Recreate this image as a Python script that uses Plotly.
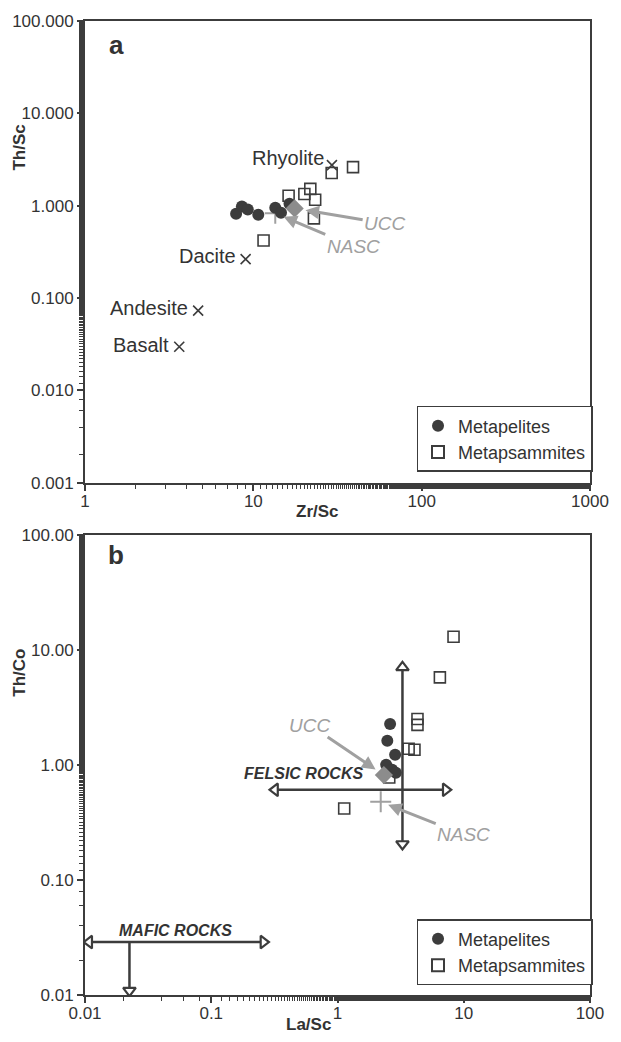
import math
import plotly.graph_objects as go

# ---------------- Panel a data (Zr/Sc vs Th/Sc) ----------------
pel_a_x = [7.9, 8.55, 9.27, 10.7, 13.5, 14.6, 16.4]
pel_a_y = [0.82, 0.98, 0.91, 0.80, 0.95, 0.84, 1.05]
psa_a_x = [39.1, 29.2, 16.2, 20.1, 21.8, 23.3, 22.9, 11.5]
psa_a_y = [2.62, 2.26, 1.28, 1.34, 1.52, 1.16, 0.73, 0.42]
rock_names = ["Rhyolite", "Dacite", "Andesite", "Basalt"]
rock_x = [29.3, 9.0, 4.7, 3.63]
rock_y = [2.75, 0.264, 0.073, 0.0297]
ucc_a = (17.6, 0.935)
nasc_a = (13.5, 0.83)

# ---------------- Panel b data (La/Sc vs Th/Co) ----------------
pel_b_x = [2.61, 2.48, 2.86, 2.43, 2.71, 2.90]
pel_b_y = [2.28, 1.63, 1.23, 1.01, 0.91, 0.86]
psa_b_x = [8.3, 6.47, 4.3, 4.3, 3.66, 4.07, 1.13, 2.57]
psa_b_y = [13.1, 5.8, 2.52, 2.24, 1.39, 1.36, 0.42, 0.78]
ucc_b = (2.33, 0.82)
nasc_b = (2.20, 0.48)

felsic_h_x = [0.32, 7.2]
felsic_h_y = [0.61, 0.61]
felsic_v_x = [3.27, 3.27]
felsic_v_y = [7.1, 0.206]
mafic_h_x = [0.0108, 0.259]
mafic_h_y = [0.0289, 0.0289]
mafic_v_x = [0.0225, 0.0225]
mafic_v_y = [0.0289, 0.0109]

ya_ticks = [0.001, 0.01, 0.1, 1, 10, 100]
ya_text = ["0.001", "0.010", "0.100", "1.000", "10.000", "100.000"]
xa_ticks = [1, 10, 100, 1000]
xa_text = ["1", "10", "100", "1000"]
yb_ticks = [0.01, 0.1, 1, 10, 100]
yb_text = ["0.01", "0.10", "1.00", "10.00", "100.00"]
xb_ticks = [0.01, 0.1, 1, 10, 100]
xb_text = ["0.01", "0.1", "1", "10", "100"]

DARK = "#3c3c3c"
GREY = "#8c8c8c"
LGREY = "#a0a0a0"
FONT = "Liberation Sans, Arial, sans-serif"

fig = go.Figure()

def pel(x, y, xa, ya, leg):
    fig.add_trace(go.Scatter(x=x, y=y, xaxis=xa, yaxis=ya, mode="markers", name="Metapelites",
                             legend=leg,
                             marker=dict(symbol="circle", size=12, color=DARK, line=dict(width=0))))

def psa(x, y, xa, ya, leg):
    fig.add_trace(go.Scatter(x=x, y=y, xaxis=xa, yaxis=ya, mode="markers", name="Metapsammites",
                             legend=leg,
                             marker=dict(symbol="square-open", size=11, color=DARK, line=dict(width=1.6))))

def ref(pt, xa, ya):
    fig.add_trace(go.Scatter(x=[pt[0]], y=[pt[1]], xaxis=xa, yaxis=ya, mode="markers", showlegend=False,
                             marker=dict(symbol="diamond", size=14, color=GREY)))

def nasc(pt, xa, ya):
    fig.add_trace(go.Scatter(x=[pt[0]], y=[pt[1]], xaxis=xa, yaxis=ya, mode="markers", showlegend=False,
                             marker=dict(symbol="cross-thin", size=15, color=LGREY, line=dict(width=2, color=LGREY))))

# panel a
fig.add_trace(go.Scatter(x=rock_x, y=rock_y, xaxis="x", yaxis="y", mode="markers", showlegend=False,
                         marker=dict(symbol="x-thin", size=10, line=dict(width=1.6, color=DARK))))
nasc(nasc_a, "x", "y")
psa(psa_a_x, psa_a_y, "x", "y", "legend")
pel(pel_a_x, pel_a_y, "x", "y", "legend")
ref(ucc_a, "x", "y")

# panel b arrows
def arrow(xs, ys, syms, xa, ya):
    fig.add_trace(go.Scatter(x=xs, y=ys, xaxis=xa, yaxis=ya, mode="lines", showlegend=False,
                             line=dict(color=DARK, width=2.5)))
    fig.add_trace(go.Scatter(x=[xs[i] for i in range(len(xs)) if syms[i]],
                             y=[ys[i] for i in range(len(ys)) if syms[i]],
                             xaxis=xa, yaxis=ya, mode="markers", showlegend=False,
                             marker=dict(symbol=[s for s in syms if s], size=11, color="white",
                                         line=dict(color=DARK, width=2.2))))

arrow(felsic_h_x, felsic_h_y, ["triangle-left", "triangle-right"], "x2", "y2")
arrow(felsic_v_x, felsic_v_y, ["triangle-up", "triangle-down"], "x2", "y2")
arrow(mafic_h_x, mafic_h_y, ["triangle-left", "triangle-right"], "x2", "y2")
arrow(mafic_v_x, mafic_v_y, [None, "triangle-down"], "x2", "y2")

nasc(nasc_b, "x2", "y2")
psa(psa_b_x, psa_b_y, "x2", "y2", "legend2")
pel(pel_b_x, pel_b_y, "x2", "y2", "legend2")
ref(ucc_b, "x2", "y2")

axis_common = dict(type="log", showline=True, linewidth=2, linecolor=DARK, mirror=True,
                   showgrid=False, zeroline=False, ticks="outside", ticklen=6, tickwidth=1.5,
                   tickcolor=DARK, tickfont=dict(family=FONT, size=17, color="#333"),
                   minor=dict(ticks="outside", ticklen=4, tickwidth=1.2, tickcolor=DARK, showgrid=False))

legend_common = dict(xanchor="right", yanchor="bottom", bgcolor="white",
                     bordercolor=DARK, borderwidth=1.5, font=dict(family=FONT, size=18, color="#333"),
                     itemsizing="constant", tracegroupgap=0, traceorder="reversed", itemwidth=30)

fig.update_layout(
    width=621, height=1042,
    margin=dict(l=85, r=18, t=12, b=47),
    plot_bgcolor="white", paper_bgcolor="white",
    font=dict(family=FONT, color="#333"),
    xaxis=dict(axis_common, domain=[0, 1], range=[0, 3], anchor="y", ticklabelstandoff=-4,
               tickvals=xa_ticks, ticktext=xa_text),
    yaxis=dict(axis_common, domain=[0.5259, 1.0], range=[-3, 2], anchor="x",
               tickvals=ya_ticks, ticktext=ya_text),
    xaxis2=dict(axis_common, domain=[0, 1], range=[-2, 2], anchor="y2", ticklabelstandoff=-4,
                tickvals=xb_ticks, ticktext=xb_text),
    yaxis2=dict(axis_common, domain=[0, 0.472], range=[-2, 2], anchor="x2",
                tickvals=yb_ticks, ticktext=yb_text),
    legend=dict(legend_common, x=1.005, y=0.537),
    legend2=dict(legend_common, x=1.005, y=0.0102),
)

ann = []
def ptext(text, x, y, size, angle=0):
    ann.append(dict(text=text, xref="paper", yref="paper", x=x, y=y, showarrow=False,
                    xanchor="center", yanchor="middle", textangle=angle,
                    font=dict(size=size, color="#333", family=FONT)))

def px_x(p):  # pixel -> paper x
    return (p - 85) / 518.0

def px_y(p):  # pixel -> paper y
    return (995 - p) / 983.0

# panel labels
ptext("<b>a</b>", px_x(117), px_y(36), 26)
ptext("<b>b</b>", px_x(117), px_y(551), 26)
# axis titles
ptext("<b>Zr/Sc</b>", px_x(323), px_y(507), 17)
ptext("<b>Th/Sc</b>", px_x(18), px_y(140), 17, -90)
ptext("<b>La/Sc</b>", px_x(314), px_y(1025), 17)
ptext("<b>Th/Co</b>", px_x(18), px_y(670), 17, -90)

# rock labels
rock_shift = {"Rhyolite": (-6, 7), "Dacite": (-8, 3), "Andesite": (-8, 3), "Basalt": (-8, 2)}
for n, x, y in zip(rock_names, rock_x, rock_y):
    dx, dy = rock_shift[n]
    ann.append(dict(text=n, x=math.log10(x), y=math.log10(y), xref="x", yref="y",
                    xanchor="right", yanchor="middle", showarrow=False, xshift=dx, yshift=dy,
                    font=dict(size=20, color="#333", family=FONT)))

# UCC / NASC arrows
def lab(text, pt, xr, yr, ax, ay, so):
    ann.append(dict(text="<i>%s</i>" % text, x=math.log10(pt[0]), y=math.log10(pt[1]), xref=xr, yref=yr,
                    showarrow=True, ax=ax, ay=ay, arrowcolor=LGREY, arrowwidth=3, arrowhead=2,
                    arrowsize=0.9, standoff=so,
                    font=dict(size=19, color=LGREY, family=FONT)))
lab("UCC", ucc_a, "x", "y", 90, 15, 11)
lab("NASC", nasc_a, "x", "y", 78, 33, 9)
lab("UCC", ucc_b, "x2", "y2", -74, -50, 10)
lab("NASC", nasc_b, "x2", "y2", 83, 33, 8)

ann.append(dict(text="<b><i>FELSIC ROCKS</i></b>", x=math.log10(0.537), y=math.log10(0.61), xref="x2", yref="y2",
                showarrow=False, yshift=16, font=dict(size=16, color="#333", family=FONT)))
ann.append(dict(text="<b><i>MAFIC ROCKS</i></b>", x=math.log10(0.052), y=math.log10(0.0289), xref="x2", yref="y2",
                showarrow=False, yshift=12, font=dict(size=16, color="#333", family=FONT)))
fig.update_layout(annotations=ann)

fig.write_html("out.html")
